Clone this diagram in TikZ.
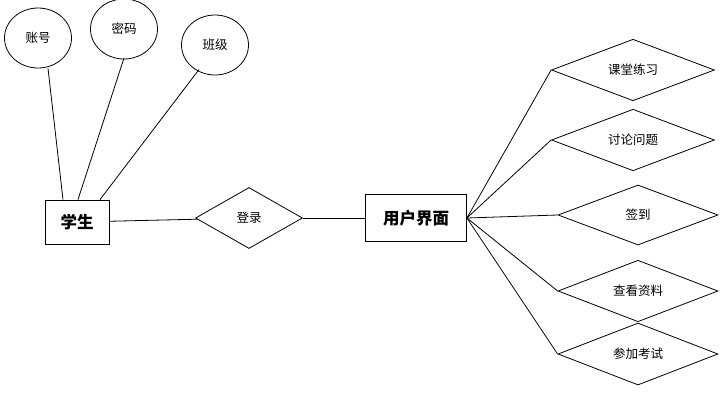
\documentclass[tikz,border=0pt]{standalone}
\usepackage{fontspec}
\newfontfamily\cjk{Noto Sans CJK SC}
\usetikzlibrary{shapes.geometric}
\begin{document}
\begin{tikzpicture}[x=1pt,y=-1pt,line width=0.8pt,font=\cjk\fontsize{12.5}{14}\selectfont]
	\tikzstyle{attr} = [draw, ellipse, minimum width=67pt, minimum height=60pt, inner sep=0pt]
	\tikzstyle{rel} = [draw, diamond, inner sep=0pt]
	\tikzstyle{ent} = [draw, rectangle, font=\cjk\bfseries\fontsize{16.5}{18}\selectfont]
	\useasboundingbox (0,0) rectangle (726,410);
	
	\node[attr] (zh) at (38,38) {账号};
	\node[attr] (mm) at (124,29) {密码};
	\node[attr] (bj) at (215,45) {班级};
	
	\node[ent, minimum width=64pt, minimum height=44pt] (xs) at (77,222) {学生};
	\node[rel, minimum width=107pt, minimum height=61pt] (dl) at (249,218) {登录};
	\node[ent, minimum width=101pt, minimum height=47pt] (ui) at (416,218) {用户界面};
	
	\node[rel, minimum width=163pt, minimum height=60pt] (kt) at (633,70) {课堂练习};
	\node[rel, minimum width=163pt, minimum height=60pt] (tl) at (633,140) {讨论问题};
	\node[rel, minimum width=160pt, minimum height=60pt] (qd) at (638,215) {签到};
	\node[rel, minimum width=160pt, minimum height=60pt] (ck) at (638,291) {查看资料};
	\node[rel, minimum width=160pt, minimum height=62pt] (ks) at (638,354) {参加考试};
	
	\draw (zh.south) ++(10,0) -- ([xshift=-14pt]xs.north);
	\draw (mm) ++(0,29) -- ([xshift=1pt]xs.north);
	\draw (bj.south west) ++(8,3) -- ([xshift=23pt]xs.north);
	
	\draw (xs) -- (dl);
	\draw (dl) -- (ui);
	\foreach \r in {kt,tl,qd,ck,ks}
		\draw (ui.east) -- (\r.west);
	
\end{tikzpicture}
\end{document}
